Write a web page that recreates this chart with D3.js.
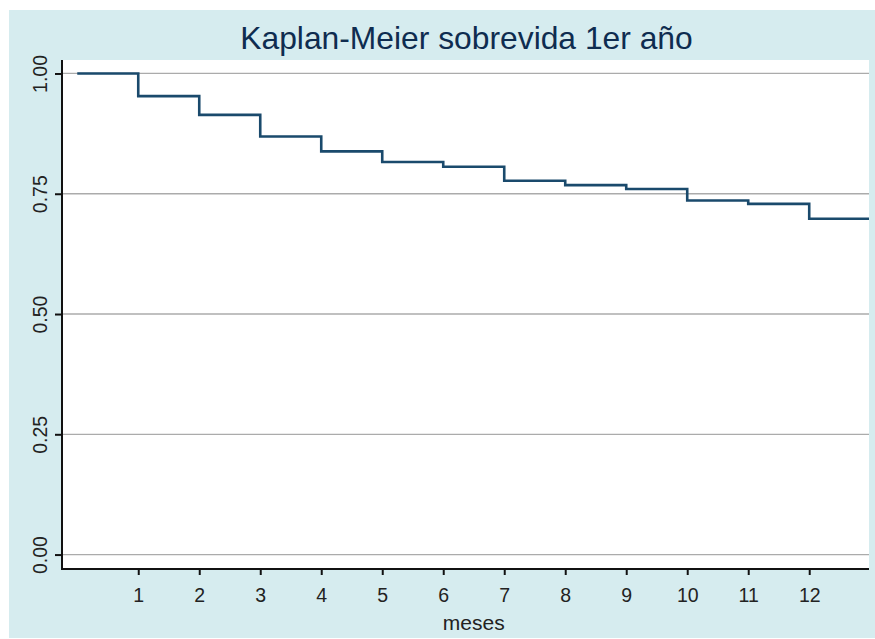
<!DOCTYPE html>
<html>
<head>
<meta charset="utf-8">
<script src="https://cdn.jsdelivr.net/npm/d3@7/dist/d3.min.js"></script>
<style>
  html, body { margin: 0; padding: 0; background: #ffffff; }
  svg { display: block; }
  text { font-family: "Liberation Sans", Arial, Helvetica, sans-serif; }
</style>
</head>
<body>
<svg id="chart" width="875" height="639"></svg>
<script>
// ---- data ----
const months = [0, 1, 2, 3, 4, 5, 6, 7, 8, 9, 10, 11, 12];
const survival = [1.000, 0.953, 0.914, 0.869, 0.838, 0.816, 0.806, 0.777, 0.768, 0.760, 0.736, 0.729, 0.698];
const followUpEnd = 12.98;
const xTicks = [1, 2, 3, 4, 5, 6, 7, 8, 9, 10, 11, 12];
const yTicks = [0, 0.25, 0.5, 0.75, 1];
const yTickLabels = ["0.00", "0.25", "0.50", "0.75", "1.00"];
const titleText = "Kaplan-Meier sobrevida 1er año";
const xTitle = "meses";

// ---- layout ----
const W = 875, H = 639;
const plot = { left: 62, right: 869, top: 60, bottom: 569 };
const colors = {
  bg: "#d6ecef",
  plotBg: "#ffffff",
  line: "#1a4a6c",
  grid: "#ababab",
  axis: "#111111",
  title: "#0f2c50",
  text: "#222222"
};

const svg = d3.select("#chart");

svg.append("rect").attr("x", 9).attr("y", 10).attr("width", W - 9).attr("height", H - 11)
  .attr("fill", colors.bg);
svg.append("rect").attr("x", plot.left).attr("y", plot.top)
  .attr("width", plot.right - plot.left).attr("height", plot.bottom - plot.top)
  .attr("fill", colors.plotBg);

const x = d3.scaleLinear().domain([-0.25, 12.98]).range([plot.left, plot.right]);
const y = d3.scaleLinear().domain([-0.03, 1.028]).range([plot.bottom, plot.top]);

// gridlines
svg.append("g").selectAll("line").data(yTicks).join("line")
  .attr("x1", plot.left).attr("x2", plot.right)
  .attr("y1", d => y(d)).attr("y2", d => y(d))
  .attr("stroke", colors.grid).attr("stroke-width", 1.3);

// step line
const pts = months.map((m, i) => [m, survival[i]]);
pts.push([followUpEnd, survival[survival.length - 1]]);
const line = d3.line().x(d => x(d[0])).y(d => y(d[1])).curve(d3.curveStepAfter);
svg.append("path").datum(pts).attr("d", line)
  .attr("fill", "none").attr("stroke", colors.line).attr("stroke-width", 2.6)
  .attr("stroke-linejoin", "miter").attr("stroke-linecap", "butt");

// x axis
const xAxis = d3.axisBottom(x).tickValues(xTicks).tickSize(6).tickSizeOuter(0).tickPadding(13);
const gx = svg.append("g").attr("transform", `translate(0,${plot.bottom})`).call(xAxis);
gx.select(".domain").attr("stroke", colors.axis).attr("stroke-width", 2)
  .attr("d", `M${plot.left - 1},0H${plot.right}`);
gx.selectAll(".tick line").attr("stroke", colors.axis).attr("stroke-width", 2);
gx.selectAll(".tick text").attr("font-size", 19.5).attr("fill", colors.text)
  .attr("font-family", "'Liberation Sans', Arial, sans-serif");

// y axis
const yAxis = d3.axisLeft(y).tickValues(yTicks).tickFormat((d, i) => yTickLabels[i])
  .tickSize(7).tickSizeOuter(0);
const gy = svg.append("g").attr("transform", `translate(${plot.left},0)`).call(yAxis);
gy.select(".domain").attr("stroke", colors.axis).attr("stroke-width", 2)
  .attr("d", `M0,${plot.top}V${plot.bottom + 1}`);
gy.selectAll(".tick line").attr("stroke", colors.axis).attr("stroke-width", 2);
gy.selectAll(".tick text")
  .attr("font-size", 19.5).attr("fill", colors.text)
  .attr("font-family", "'Liberation Sans', Arial, sans-serif")
  .attr("x", null).attr("dy", null)
  .attr("text-anchor", "middle")
  .attr("transform", "translate(-15.5,0) rotate(-90)");

// title
svg.append("text").attr("x", (plot.left + plot.right) / 2 + 1).attr("y", 49)
  .attr("text-anchor", "middle").attr("font-size", 31.8).attr("fill", colors.title)
  .text(titleText);

// x axis title
svg.append("text").attr("x", x(6.5)).attr("y", 629.5)
  .attr("text-anchor", "middle").attr("font-size", 21).attr("fill", colors.text)
  .text(xTitle);
</script>
</body>
</html>
